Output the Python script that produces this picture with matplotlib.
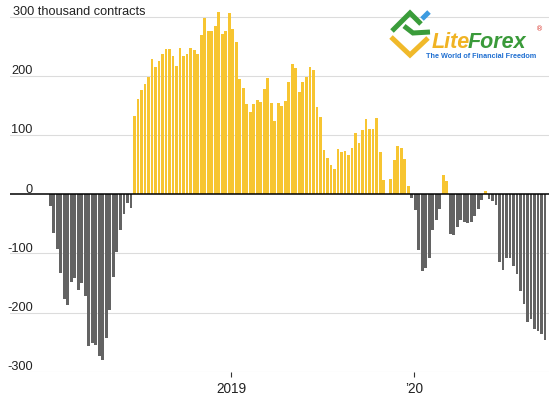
import pandas as pd
import matplotlib
matplotlib.use("Agg")
import matplotlib.pyplot as plt
import matplotlib.dates as mdates
from matplotlib.lines import Line2D
from matplotlib import font_manager

# weekly net position, thousand contracts, weeks starting 2 Jan 2018
first_week = "2018-01-02"
net_2018 = [-20, -65, -93, -133, -177, -187, -149, -142, -162, -150, -172, -256,
            -252, -255, -273, -280, -243, -195, -140, -98, -60, -33, -15, -23,
            132, 161, 177, 186, 199, 229, 215, 225, 237, 245, 245, 234,
            217, 247, 234, 238, 247, 244, 237, 270, 299, 277, 277, 285,
            308, 272, 276, 306]
net_2019 = [280, 258, 195, 180, 153, 139, 153, 159, 156, 178, 197, 154,
            124, 154, 149, 158, 190, 220, 214, 173, 190, 198, 215, 210,
            147, 131, 75, 61, 49, 43, 77, 72, 73, 66, 78, 104,
            87, 109, 128, 111, 111, 129, 72, 24, 0, 26, 58, 81,
            79, 60, 14, -6, -27]
net_2020 = [-94, -130, -124, -108, -60, -44, -24, 32, 22, -67, -69, -55,
            -43, -46, -49, -47, -36, -24, -10, 5, -8, -12, -18, -115,
            -128, -107, -107, -121, -134, -163, -186, -216, -211, -228, -232, -237,
            -246]

grid_values = [300, 200, 100, 0, -100, -200, -300]
grid_labels = ["300 thousand contracts", "200", "100", "0", "-100", "-200", "-300"]
year_ticks = ["2019-01-01", "2020-01-01"]
year_labels = ["2019", "\u201920"]

W, H = 559, 397
names = {f.name for f in font_manager.fontManager.ttflist}
narrow = ["Liberation Sans Narrow", "DejaVu Sans"] if "Liberation Sans Narrow" in names else ["Liberation Sans", "DejaVu Sans"]

net = net_2018 + net_2019 + net_2020
weeks = pd.date_range(first_week, periods=len(net), freq="7D")
colors = ["#f7c531" if v >= 0 else "#636363" for v in net]

fig = plt.figure(figsize=(W / 100, H / 100), dpi=100)
ax = fig.add_axes([10 / W, 25.3 / H, 539 / W, (371.7 - 8.1) / H])

ax.bar(weeks, net, width=5.6, align="edge", color=colors, linewidth=0, zorder=2)

# grid + zero line
for v in grid_values:
    if v == 0:
        ax.axhline(v, color="black", lw=1.1, zorder=3)
    else:
        ax.axhline(v, color="#dcdcdc", lw=0.8, zorder=0)

# left labels sit on top of the gridlines
for v, lab in zip(grid_values, grid_labels):
    if v == 300:
        ax.text(3.3 / 539, v + 3, lab, transform=ax.get_yaxis_transform(),
                ha="left", va="baseline", fontsize=9.2, color="#222222", family=narrow)
    else:
        ax.text(22.7 / 539, v + 3, lab, transform=ax.get_yaxis_transform(),
                ha="right", va="baseline", fontsize=9.2, color="#222222", family=narrow)

x0 = pd.Timestamp("2019-01-01")
px_per_day = 183 / 365
ax.set_xlim(mdates.date2num(x0 - pd.Timedelta(days=221.3 / px_per_day)),
            mdates.date2num(x0 + pd.Timedelta(days=317.7 / px_per_day)))
ax.set_ylim(-300, 315)

ax.set_xticks([mdates.date2num(pd.Timestamp(d)) for d in year_ticks])
ax.set_xticklabels(year_labels, family=narrow)
ax.tick_params(axis="x", length=3.5, width=0.8, color="#333333", pad=4,
               labelsize=9.8, labelcolor="#222222")
ax.tick_params(axis="y", left=False, labelleft=False)
for s in ax.spines.values():
    s.set_visible(False)


# LiteForex watermark, top right
def px(x, y):
    return x / W, 1 - y / H


def stroke(points, color, lw):
    xs, ys = zip(*[px(x, y) for x, y in points])
    fig.add_artist(Line2D(xs, ys, transform=fig.transFigure, color=color, lw=lw,
                          solid_capstyle="butt", solid_joinstyle="miter", zorder=5))


stroke([(392, 31), (410, 13), (421, 24)], "#3a9c3a", 3.6)
stroke([(404, 26), (413, 33), (430, 32)], "#3a9c3a", 3.6)
stroke([(391, 37), (410, 55), (428, 38)], "#f0b92a", 3.6)
stroke([(422, 19), (429, 12)], "#3d9be0", 3.6)

fig.text(*px(432, 48), "Lite", fontsize=15.5, fontweight="bold", style="italic",
         color="#f0b323", family=["Liberation Sans", "DejaVu Sans"], ha="left", va="baseline")
fig.text(*px(468, 48), "Forex", fontsize=15.5, fontweight="bold", style="italic",
         color="#3a9a3a", family=["Liberation Sans", "DejaVu Sans"], ha="left", va="baseline")
fig.text(*px(536, 31), "\u00ae", fontsize=5, color="#d9342b", ha="left", va="baseline")
fig.text(*px(426, 57.5), "The World of Financial Freedom", fontsize=5.2, fontweight="bold",
         color="#1f6fd1", family=["Liberation Sans", "DejaVu Sans"], ha="left", va="baseline")

fig.savefig("out.png", dpi=100)
